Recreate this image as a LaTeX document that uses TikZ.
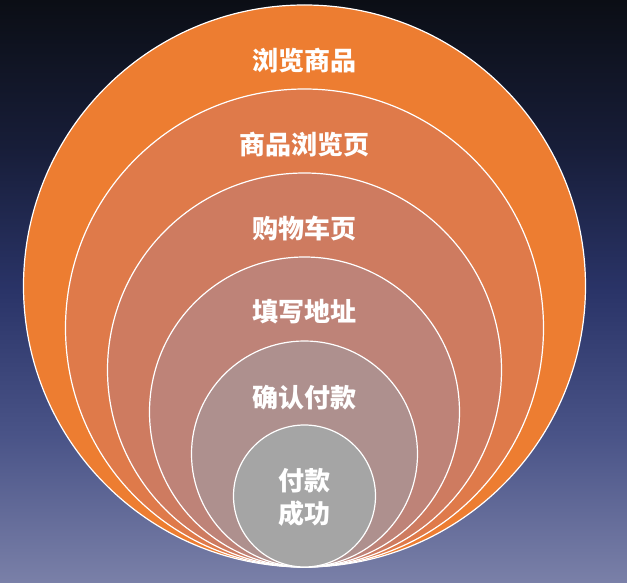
\documentclass[tikz,border=0pt]{standalone}
\usepackage{fontspec}
\newfontfamily\cjk{Noto Sans CJK SC}
\usepackage{xcolor}
\definecolor{bgtop}{HTML}{0B0E15}
\definecolor{bghigh}{HTML}{171D38}
\definecolor{bgmid}{HTML}{2A3468}
\definecolor{bglow}{HTML}{4A5488}
\definecolor{bgbot}{HTML}{7A80A8}
\definecolor{ringA}{HTML}{ED7D31}
\definecolor{ringB}{HTML}{DF7A4A}
\definecolor{ringC}{HTML}{CE7B60}
\definecolor{ringD}{HTML}{BE8378}
\definecolor{ringE}{HTML}{AE908E}
\definecolor{ringF}{HTML}{A5A5A5}
\pgfdeclareverticalshading{skyfade}{100bp}{color(0bp)=(bgbot); color(25bp)=(bgbot);
    color(37.5bp)=(bglow); color(50bp)=(bgmid); color(62.5bp)=(bghigh);
    color(75bp)=(bgtop); color(100bp)=(bgtop)}

\tikzset{
    ring/.style={circle, draw=white, line width=1.2pt, inner sep=0pt, fill=#1},
    stage/.style={text=white, font=\cjk\bfseries\fontsize{26}{33}\selectfont, align=center}
}

\begin{document}
\begin{tikzpicture}[x=1pt,y=-1pt]
    \shade[shading=skyfade] (0,0) rectangle (627,583);
    \useasboundingbox (0,0) rectangle (627,583);
    % nested rings, all touching at the bottom
    \node[ring=ringA, minimum size=562pt] (c1) at (304.5,286) {};
    \node[ring=ringB, minimum size=478pt] (c2) at (304.5,328) {};
    \node[ring=ringC, minimum size=394pt] (c3) at (304.5,370) {};
    \node[ring=ringD, minimum size=310pt] (c4) at (304.5,412) {};
    \node[ring=ringE, minimum size=226pt] (c5) at (304.5,454) {};
    \node[ring=ringF, minimum size=142pt] (c6) at (304.5,496) {};
    % labels
    \node[stage] (t1) at (304.5,61) {浏览商品};
    \node[stage] (t2) at (304.5,145) {商品浏览页};
    \node[stage] (t3) at (304.5,228) {购物车页};
    \node[stage] (t4) at (304.5,312) {填写地址};
    \node[stage] (t5) at (304.5,398) {确认付款};
    \node[stage] (t6) at (304.5,497) {付款\\成功};
\end{tikzpicture}
\end{document}
